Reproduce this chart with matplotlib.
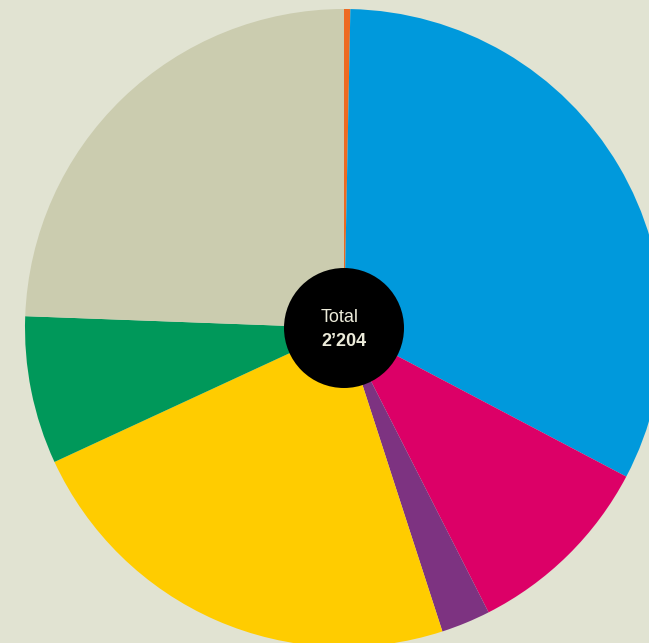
import matplotlib
matplotlib.use("Agg")
import matplotlib.pyplot as plt
from matplotlib.patches import Circle

# Slice values, clockwise from 12 o'clock
values = [7, 714, 216, 55, 509, 165, 538]
colors = ["#ee6a22", "#0099dc", "#dc0067", "#7d3381", "#ffcc00", "#00985a", "#cbccaf"]
total_label = "Total"
total_value = "2\u2019204"

bg = "#e1e3d2"
W, H = 649, 643
fig = plt.figure(figsize=(W / 100, H / 100), dpi=100, facecolor=bg)
ax = fig.add_axes([0, 0, 1, 1])
ax.set_facecolor(bg)

cx, cy, r = 344, H - 328, 319
ax.pie(values, colors=colors, startangle=90, counterclock=False,
       center=(cx, cy), radius=r, wedgeprops=dict(linewidth=0))

ax.add_patch(Circle((cx, cy), 60, facecolor="black", edgecolor="none", zorder=5))
ax.text(cx - 4, cy + 10, total_label, ha="center", va="center", color="#ecebda",
        fontsize=13, family="Liberation Sans", zorder=6)
ax.text(cx, cy - 13, total_value, ha="center", va="center", color="#ecebda",
        fontsize=13, fontweight="bold", family="Liberation Sans", zorder=6)

ax.set_xlim(0, W)
ax.set_ylim(0, H)
ax.set_aspect("auto")
ax.axis("off")

fig.savefig("out.png", dpi=100, facecolor=bg)
